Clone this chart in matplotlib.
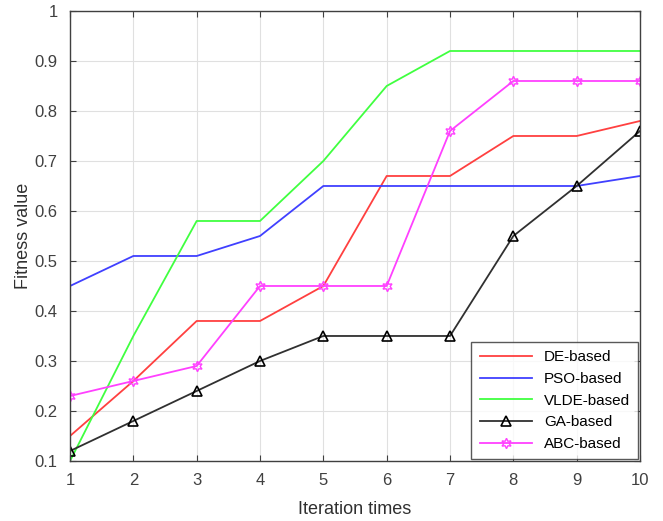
import numpy as np
from matplotlib import pyplot as plt

plt.rcParams['font.family'] = ['Liberation Sans', 'DejaVu Sans']

iters = [1, 2, 3, 4, 5, 6, 7, 8, 9, 10]
de_based = [0.15, 0.26, 0.38, 0.38, 0.45, 0.67, 0.67, 0.75, 0.75, 0.78]
pso_based = [0.45, 0.51, 0.51, 0.55, 0.65, 0.65, 0.65, 0.65, 0.65, 0.67]
vlde_based = [0.10, 0.35, 0.58, 0.58, 0.70, 0.85, 0.92, 0.92, 0.92, 0.92]
ga_based = [0.12, 0.18, 0.24, 0.30, 0.35, 0.35, 0.35, 0.55, 0.65, 0.76]
abc_based = [0.23, 0.26, 0.29, 0.45, 0.45, 0.45, 0.76, 0.86, 0.86, 0.86]

fig = plt.figure(figsize=(6.63, 5.21), dpi=100)
ax = fig.add_axes([0.1056, 0.1152, 0.8597, 0.8637])

ax.plot(iters, de_based, color='#ff4040', lw=1.3, label='DE-based')
ax.plot(iters, pso_based, color='#4040ff', lw=1.3, label='PSO-based')
ax.plot(iters, vlde_based, color='#40ff40', lw=1.3, label='VLDE-based')
ax.plot(iters, ga_based, color='#303030', lw=1.3, marker='^', ms=7.5,
        mfc='none', mec='black', mew=1.2, label='GA-based')
ax.plot(iters, abc_based, color='#ff40ff', lw=1.3, marker=(6, 1, 0), ms=7.5,
        mfc='none', mec='#ff40ff', mew=1.0, label='ABC-based')

ax.set_xlim(1, 10)
ax.set_ylim(0.1, 1)
ax.set_xticks(iters)
ax.set_yticks(np.arange(0.1, 1.01, 0.1))
ax.set_yticklabels(['0.1', '0.2', '0.3', '0.4', '0.5', '0.6', '0.7', '0.8', '0.9', '1'])
ax.grid(True, color='#e0e0e0', lw=0.8)
ax.set_axisbelow(True)
ax.tick_params(direction='in', top=True, right=True, labelsize=12,
               colors='#404040', length=4)
ax.tick_params(axis='x', pad=9)
ax.tick_params(axis='y', pad=9)
for s in ax.spines.values():
    s.set_color('#404040')
    s.set_linewidth(1.0)

ax.set_xlabel('Iteration times', fontsize=13, color='#303030', labelpad=9)
ax.set_ylabel('Fitness value', fontsize=13, color='#303030')
ax.yaxis.set_label_coords(-0.066, 0.5)

leg = ax.legend(loc='lower right', fontsize=11, frameon=True, fancybox=False,
                edgecolor='#303030', borderaxespad=0.1, handlelength=3.4,
                labelspacing=0.5, borderpad=0.55)
leg.get_frame().set_linewidth(1.0)

fig.savefig('out.png', dpi=100)
